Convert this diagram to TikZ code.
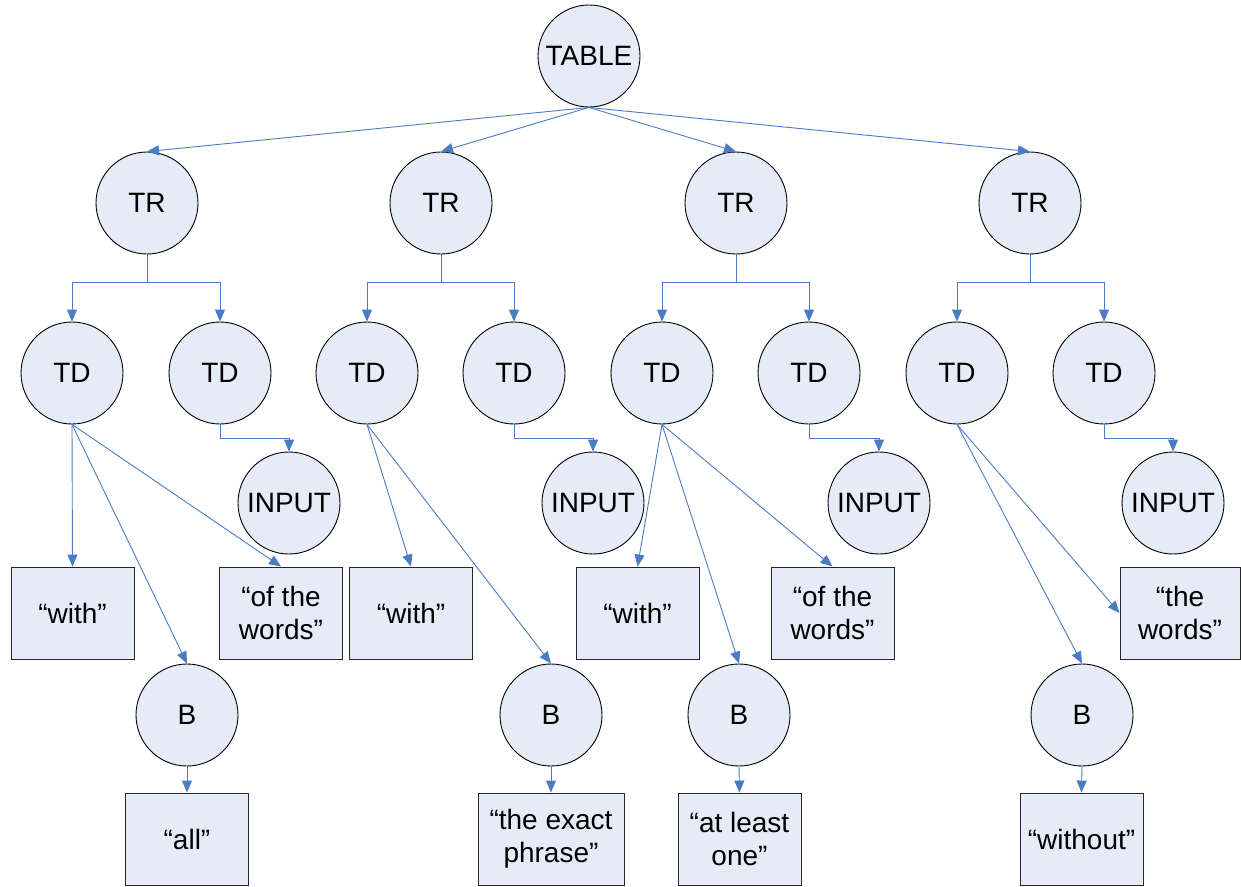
\documentclass[tikz,border=0pt]{standalone}
\usepackage{fontspec}
\setmainfont{Liberation Sans}
\usetikzlibrary{arrows.meta}
\definecolor{linkblue}{RGB}{74,124,196}
\definecolor{nodefill}{RGB}{230,236,247}
\tikzset{
  tag/.style={circle, draw=black, line width=0.9pt, fill=nodefill,
    minimum size=102pt, inner sep=0pt, font=\fontsize{28}{33}\selectfont},
  leaf/.style={rectangle, draw=black!85, line width=0.9pt, fill=nodefill,
    minimum width=123pt, minimum height=92pt, inner sep=0pt, align=center,
    font=\fontsize{28}{33}\selectfont},
  conn/.style={draw=linkblue, line width=0.9pt,
    -{Triangle[length=12pt,width=10pt]}},
}
\begin{document}
\begin{tikzpicture}[x=1pt, y=-1pt]
\useasboundingbox (0,0) rectangle (1241,886);

% root and rows
\node[tag] (table) at (589,56) {TABLE};
\node[tag] (tr1) at (147,203) {TR};
\node[tag] (tr2) at (441,203) {TR};
\node[tag] (tr3) at (736,203) {TR};
\node[tag] (tr4) at (1030,203) {TR};

% cells
\node[tag] (td1) at (72,373) {TD};
\node[tag] (td2) at (220,373) {TD};
\node[tag] (td3) at (367,373) {TD};
\node[tag] (td4) at (514,373) {TD};
\node[tag] (td5) at (662,373) {TD};
\node[tag] (td6) at (809,373) {TD};
\node[tag] (td7) at (957,373) {TD};
\node[tag] (td8) at (1104,373) {TD};

% input fields
\node[tag] (in1) at (289,503) {INPUT};
\node[tag] (in2) at (593,503) {INPUT};
\node[tag] (in3) at (879,503) {INPUT};
\node[tag] (in4) at (1173,503) {INPUT};

% text leaves, first level
\node[leaf] (w1) at (72.5,613) {“with”};
\node[leaf] (ow1) at (281,613) {“of the\\words”};
\node[leaf] (w2) at (411,613) {“with”};
\node[leaf] (w3) at (637.5,613) {“with”};
\node[leaf] (ow2) at (832.5,613) {“of the\\words”};
\node[leaf, minimum width=120pt] (tw) at (1180,613) {“the\\words”};

% bold elements
\node[tag] (b1) at (187,715) {B};
\node[tag] (b2) at (551,715) {B};
\node[tag] (b3) at (739,715) {B};
\node[tag] (b4) at (1082,715) {B};

% text leaves inside bold elements
\node[leaf] (all) at (187,839) {“all”};
\node[leaf, minimum width=146pt] (exact) at (551,839) {“the exact\\phrase”};
\node[leaf] (least) at (739.5,839) {“at least\\one”};
\node[leaf] (without) at (1081.5,839) {“without”};

% table to rows
\foreach \r in {tr1,tr2,tr3,tr4}
  \draw[conn] (table.south) -- (\r.north);

% rows to cells
\draw[conn] (tr1.south) -- ++(0,28) -| (td1.north);
\draw[conn] (tr1.south) -- ++(0,28) -| (td2.north);
\draw[conn] (tr2.south) -- ++(0,28) -| (td3.north);
\draw[conn] (tr2.south) -- ++(0,28) -| (td4.north);
\draw[conn] (tr3.south) -- ++(0,28) -| (td5.north);
\draw[conn] (tr3.south) -- ++(0,28) -| (td6.north);
\draw[conn] (tr4.south) -- ++(0,28) -| (td7.north);
\draw[conn] (tr4.south) -- ++(0,28) -| (td8.north);

% cells to inputs
\draw[conn] (td2.south) -- ++(0,14) -| (in1.north);
\draw[conn] (td4.south) -- ++(0,14) -| (in2.north);
\draw[conn] (td6.south) -- ++(0,14) -| (in3.north);
\draw[conn] (td8.south) -- ++(0,14) -| (in4.north);

% cells to their contents
\draw[conn] (td1.south) -- (w1.north);
\draw[conn] (td1.south) -- (b1.north);
\draw[conn] (td1.south) -- (ow1.north);
\draw[conn] (td3.south) -- (w2.north);
\draw[conn] (td3.south) -- (b2.north);
\draw[conn] (td5.south) -- (w3.north);
\draw[conn] (td5.south) -- (b3.north);
\draw[conn] (td5.south) -- (ow2.north);
\draw[conn] (td7.south) -- (b4.north);
\draw[conn] (td7.south) -- (tw.west);

% bold elements to text
\draw[conn] (b1.south) -- (all.north);
\draw[conn] (b2.south) -- (exact.north);
\draw[conn] (b3.south) -- (least.north);
\draw[conn] (b4.south) -- (without.north);
\end{tikzpicture}
\end{document}
